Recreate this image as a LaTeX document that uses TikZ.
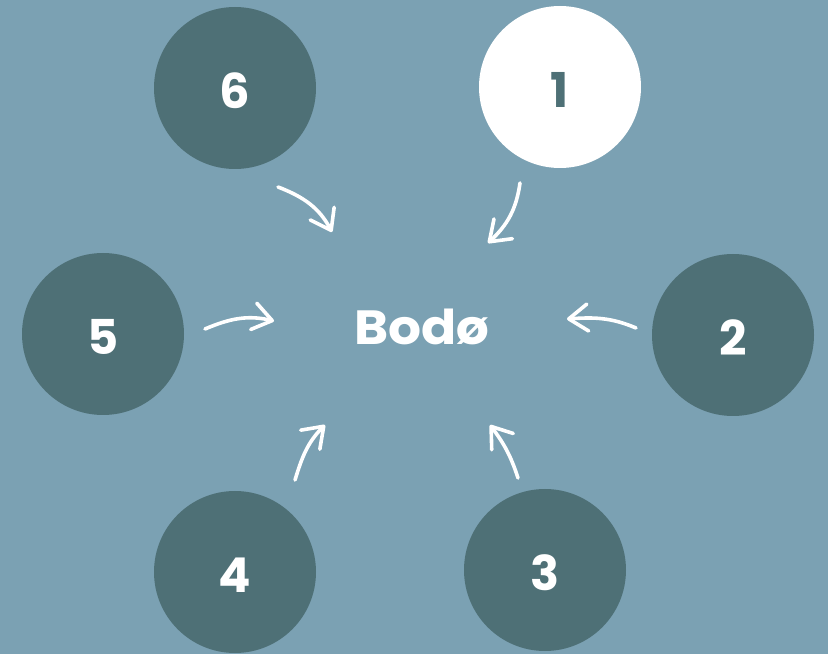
\documentclass[tikz,border=0pt]{standalone}
\usepackage{fontspec}
\setmainfont{Poppins}
\usetikzlibrary{arrows.meta}
\definecolor{bgblue}{HTML}{7BA1B3}
\definecolor{darkteal}{HTML}{4E7076}
\begin{document}
\begin{tikzpicture}[x=1pt,y=1pt,
  bubble/.style={circle,minimum size=162pt,inner sep=0pt,fill=darkteal},
  whitebubble/.style={bubble,fill=white},
  numtext/.style={text=white,font=\fontsize{48}{50}\selectfont\bfseries,inner sep=0pt},
  darknum/.style={numtext,text=darkteal},
  flow/.style={draw=white,line width=3.6pt,line cap=round,line join=round,
    -{Straight Barb[length=19pt,width=27pt,round]}}]
\fill[bgblue] (0,0) rectangle (828,654);
\useasboundingbox (0,0) rectangle (828,654);
% circles
\node[bubble] (c6) at (235,566) {};
\node[whitebubble] (c1) at (560,567) {};
\node[bubble] (c5) at (103,320) {};
\node[bubble] (c2) at (733,319) {};
\node[bubble] (c4) at (235,82) {};
\node[bubble] (c3) at (545,84) {};
% numbers
\node[numtext] (n6) at ([yshift=-3pt]c6.center) {6};
\node[darknum] (n1) at ([yshift=-3pt]c1.center) {1};
\node[numtext] (n5) at ([yshift=-3pt]c5.center) {5};
\node[numtext] (n2) at ([yshift=-3pt]c2.center) {2};
\node[numtext] (n4) at ([yshift=-3pt]c4.center) {4};
\node[numtext] (n3) at ([yshift=-3pt]c3.center) {3};
% centre
\node[numtext] (bodo) at (422,327) {\scalebox{1.08}[1]{Bodø}};
% arrow ends
\coordinate (s6) at (278,467); \coordinate (e6) at (332,422);
\coordinate (s1) at (520,471); \coordinate (e1) at (488,411);
\coordinate (s2) at (636,326); \coordinate (e2) at (567,335);
\coordinate (s5) at (205,325); \coordinate (e5) at (274,333);
\coordinate (s4) at (295,174); \coordinate (e4) at (325,229);
\coordinate (s3) at (518,176); \coordinate (e3) at (490,229);
% arrows
\draw[flow] (s6) to[out=-21,in=118] (e6);
\draw[flow] (s1) to[out=-98,in=43] (e1);
\draw[flow] (s2) to[out=157,in=4] (e2);
\draw[flow] (s5) to[out=23,in=167] (e5);
\draw[flow] (s4) to[out=73,in=225] (e4);
\draw[flow] (s3) to[out=108,in=-53] (e3);
\end{tikzpicture}
\end{document}
